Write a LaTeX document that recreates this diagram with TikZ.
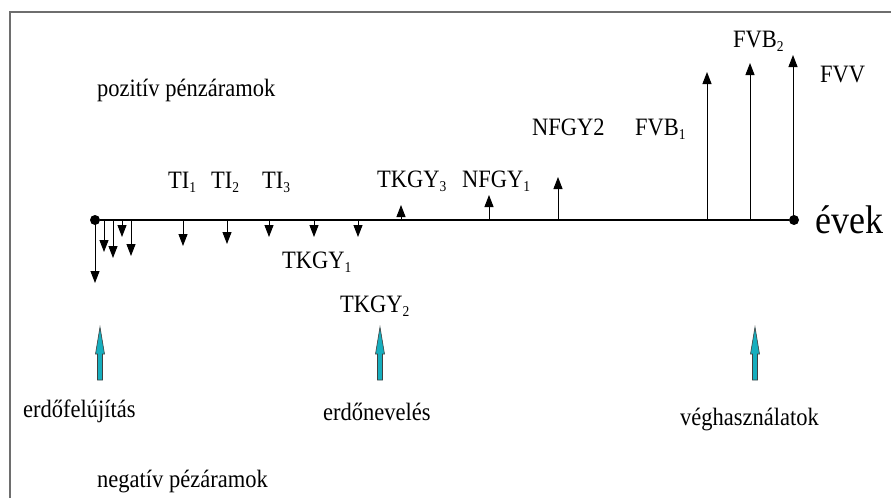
\documentclass[tikz,border=0pt]{standalone}
\usepackage{fontspec}
\setmainfont{Liberation Serif}[FakeStretch=0.9]
\usetikzlibrary{arrows.meta}
\definecolor{cyanarrow}{RGB}{22,174,190}
\definecolor{framegray}{RGB}{110,110,110}
\newcommand\lowsub[1]{\raisebox{-0.35ex}{\fontsize{15}{15}\selectfont #1}}
\tikzset{flow/.style={line width=1pt,-{Triangle[length=12pt,width=9pt]}}}
\begin{document}
\begin{tikzpicture}[x=1pt,y=-1pt,
  lbl/.style={anchor=base west,inner sep=0pt,font=\fontsize{25}{25}\selectfont},
  dot/.style={circle,fill=black,inner sep=0pt,minimum size=10pt},
  big/.style={fill=cyanarrow,draw=black!75,line width=0.6pt,line join=miter},
  bigarrow/.pic={\draw[big] (-2.5,0) -- (-2.5,-26) -- (-4.5,-26) -- (0,-53) -- (4.5,-26) -- (2.5,-26) -- (2.5,0) -- cycle;}]
\useasboundingbox (0,0) rectangle (891,498);
\draw[framegray,line width=1.5pt] (10,498) -- (10,12) -- (891,12);
% axis
\node[dot] (o) at (95,220) {};
\node[dot] (e) at (794,220) {};
\draw[line width=1.2pt] (o) -- (e);
\node[anchor=base west,inner sep=0pt,font=\fontsize{40}{40}\selectfont] (evek) at (815,233) {évek};
% negative flows
\foreach \i/\x/\y in {1/95/283,2/104/252,3/113/258,4/122/237,5/131/256,6/183/246,7/227/244,8/269/237,9/314/237,10/358/237}{
  \coordinate (ds\i) at (\x,220);
  \coordinate (dt\i) at (\x,\y);
  \draw[flow] (ds\i) -- (dt\i);
}
% positive flows
\foreach \i/\x/\y in {1/401/205,2/489/195,3/558/177,4/707/72,5/750/63,6/793/55}{
  \coordinate (us\i) at (\x,220);
  \coordinate (ut\i) at (\x,\y);
  \draw[flow] (us\i) -- (ut\i);
}
% labels
\node[lbl] (poz) at (97,96) {pozitív pénzáramok};
\node[lbl] (ti1) at (168,188) {TI\lowsub{1}};
\node[lbl] (ti2) at (211,188) {TI\lowsub{2}};
\node[lbl] (ti3) at (262,188) {TI\lowsub{3}};
\node[lbl] (tk3) at (377,187) {TKGY\lowsub{3}};
\node[lbl] (nf1) at (462,187) {NFGY\lowsub{1}};
\node[lbl] (nf2) at (532,135) {NFGY2};
\node[lbl] (fvb1) at (635,135) {FVB\lowsub{1}};
\node[lbl] (fvb2) at (733,47) {FVB\lowsub{2}};
\node[lbl] (fvv) at (820,82) {FVV};
\node[lbl] (tk1) at (282,268) {TKGY\lowsub{1}};
\node[lbl] (tk2) at (340,312) {TKGY\lowsub{2}};
% phase arrows
\pic at (100,380) {bigarrow};
\pic at (380,380) {bigarrow};
\pic at (755,380) {bigarrow};
\node[lbl] (erf) at (23,417) {erdőfelújítás};
\node[lbl] (ern) at (323,420) {erdőnevelés};
\node[lbl] (veg) at (680,425) {véghasználatok};
\node[lbl] (neg) at (97,487) {negatív pézáramok};
\end{tikzpicture}
\end{document}
